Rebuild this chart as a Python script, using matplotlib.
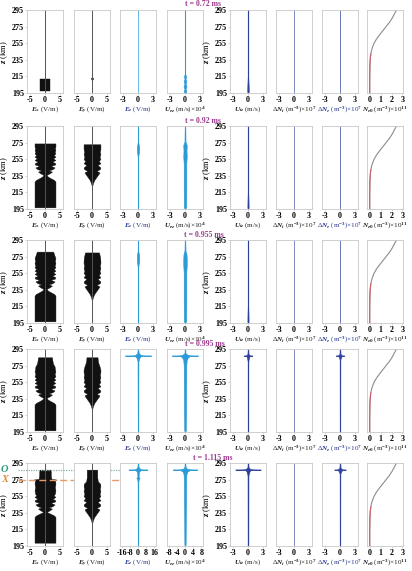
import matplotlib.pyplot as plt
from matplotlib.transforms import blended_transform_factory

# ---- data ----
times = ['t = 0.72 ms', 't = 0.92 ms', 't = 0.955 ms', 't = 0.995 ms', 't = 1.115 ms']
z_ticks = [195, 215, 235, 255, 275, 295]

# Ex envelope (half width, V/m) per time step
ex_z = [
    [197, 212],
    [197, 228, 230, 232, 234, 236, 238, 240, 241.5, 243, 245, 247, 248.5, 250, 252, 254, 256, 258, 260, 262, 264, 266, 268, 270, 272, 274],
    [197, 228, 230, 232, 234, 236, 238, 240, 241.5, 243, 245, 247, 248.5, 250, 252, 254, 256, 258, 260, 262, 264, 267, 270, 273, 276, 279, 281],
    [197, 228, 230, 232, 234, 236, 238, 240, 241.5, 243, 245, 247, 248.5, 250, 252, 254, 256, 258, 260, 262, 265, 268, 271, 274, 277, 280, 285],
    [199, 230, 232, 234, 236, 238, 240, 241.5, 243, 245, 247, 248.5, 250, 252, 254, 256, 258, 262, 266, 270, 274, 275, 276, 280, 284, 287],
]
ex_w = [
    [1.6, 1.6],
    [3.6, 3.6, 3.1, 2.0, 1.0, 0.5, 1.6, 2.4, 1.3, 2.6, 3.3, 2.0, 3.4, 3.6, 2.5, 3.6, 2.8, 3.6, 3.0, 3.6, 3.3, 3.6, 3.4, 3.6, 3.6, 3.6],
    [3.6, 3.6, 3.1, 2.0, 1.0, 0.5, 1.6, 2.4, 1.3, 2.6, 3.3, 2.0, 3.4, 3.6, 2.5, 3.6, 2.8, 3.6, 3.0, 3.6, 3.3, 3.6, 3.4, 3.6, 3.3, 3.0, 2.8],
    [3.6, 3.6, 3.1, 2.0, 1.0, 0.5, 1.6, 2.4, 1.3, 2.6, 3.3, 2.0, 3.4, 3.6, 2.5, 3.6, 2.8, 3.6, 3.0, 3.6, 3.3, 3.6, 3.4, 3.3, 2.8, 2.6, 2.4],
    [3.6, 3.6, 3.0, 1.8, 0.6, 1.6, 2.4, 1.3, 2.6, 3.3, 2.0, 3.4, 3.6, 2.6, 3.6, 3.0, 3.4, 3.6, 3.4, 3.6, 3.5, 4.0, 2.2, 2.0, 2.0, 1.9],
]

# Ey envelope (half width, V/m)
ey_z = [
    [211, 212, 213, 214],
    [222, 226, 230, 233, 236, 239, 241, 243, 245, 248, 250, 253, 255, 258, 261, 264, 267, 270, 273],
    [222, 226, 230, 233, 236, 239, 241, 243, 245, 248, 250, 253, 255, 258, 261, 264, 267, 270, 274, 277, 280],
    [222, 226, 230, 233, 236, 239, 241, 243, 245, 248, 250, 253, 255, 258, 261, 264, 267, 270, 274, 278, 281, 285],
    [222, 226, 230, 233, 236, 239, 241, 243, 245, 248, 250, 253, 255, 258, 261, 264, 267, 270, 273, 278, 283, 287],
]
ey_w = [
    [0.1, 0.35, 0.35, 0.1],
    [0.05, 0.3, 0.8, 1.4, 2.0, 2.6, 1.6, 2.7, 2.9, 1.9, 2.9, 2.3, 2.9, 2.6, 2.9, 2.7, 2.9, 2.9, 2.9],
    [0.05, 0.3, 0.8, 1.4, 2.0, 2.6, 1.6, 2.7, 2.9, 1.9, 2.9, 2.3, 2.9, 2.6, 2.9, 2.7, 2.9, 2.9, 2.8, 2.6, 2.4],
    [0.05, 0.3, 0.8, 1.4, 2.0, 2.6, 1.6, 2.7, 2.9, 1.9, 2.9, 2.3, 2.9, 2.6, 2.9, 2.7, 2.9, 2.9, 2.6, 2.2, 2.0, 1.9],
    [0.05, 0.3, 0.8, 1.4, 2.0, 2.6, 1.6, 2.7, 2.9, 1.9, 2.9, 2.3, 2.9, 2.6, 2.9, 2.7, 2.9, 2.8, 2.0, 1.8, 1.8, 1.8],
]

# Ez envelope (V/m)
ez_z = [
    [195, 295],
    [195, 258, 262, 268, 272, 276, 295],
    [195, 262, 268, 274, 278, 282, 295],
    [195, 280, 284, 286, 286.6, 287, 287.4, 288, 290, 295],
    [195, 272, 276, 277, 278, 284, 286, 286.6, 287, 287.4, 288, 290, 295],
]
ez_w = [
    [0.04, 0.04],
    [0.04, 0.04, 0.15, 0.2, 0.15, 0.04, 0.04],
    [0.04, 0.04, 0.18, 0.22, 0.18, 0.04, 0.04],
    [0.04, 0.08, 0.25, 0.5, 0.9, 2.7, 0.9, 0.5, 0.15, 0.04],
    [0.2, 0.3, 0.8, 1.6, 0.6, 0.8, 2.0, 3.5, 9.5, 3.5, 2.0, 0.6, 0.2],
]

# Uez envelope (m/s x 1e4)
uez_z = [
    [195, 197, 200, 203, 206, 209, 212, 215, 218, 295],
    [195, 197, 220, 250, 258, 265, 272, 276, 295],
    [195, 197, 220, 255, 265, 272, 278, 282, 295],
    [195, 197, 240, 275, 282, 285, 286.6, 287, 287.4, 288, 290, 295],
    [195, 197, 240, 275, 282, 285, 286.6, 287, 287.4, 288, 290, 295],
]
uez_w = [
    [0.04, 0.25, 0.1, 0.3, 0.1, 0.25, 0.1, 0.2, 0.04, 0.04],
    [0.04, 0.2, 0.25, 0.25, 0.35, 0.3, 0.35, 0.1, 0.04],
    [0.04, 0.2, 0.25, 0.25, 0.35, 0.35, 0.3, 0.1, 0.04],
    [0.04, 0.15, 0.2, 0.25, 0.35, 0.6, 1.0, 2.7, 1.0, 0.5, 0.1, 0.04],
    [0.1, 0.3, 0.4, 0.5, 0.7, 1.2, 2.5, 6.0, 2.5, 1.0, 0.3, 0.1],
]

# Uiz envelope (m/s)
uiz_z = [
    [195, 197, 205, 215, 295],
    [195, 197, 205, 215, 295],
    [195, 197, 205, 215, 295],
    [195, 280, 285, 286.6, 287, 287.4, 289, 295],
    [195, 280, 284, 286, 286.6, 287, 287.4, 288, 290, 295],
]
uiz_w = [
    [0.05, 0.15, 0.12, 0.05, 0.05],
    [0.05, 0.12, 0.1, 0.05, 0.05],
    [0.05, 0.12, 0.1, 0.05, 0.05],
    [0.05, 0.06, 0.2, 0.35, 0.9, 0.35, 0.1, 0.05],
    [0.06, 0.08, 0.25, 0.4, 0.8, 2.6, 0.8, 0.4, 0.1, 0.06],
]

# delta Ne envelope (m^-3 x 1e7); delta Ni stays flat
dne_z = [
    [195, 295],
    [195, 295],
    [195, 295],
    [195, 282, 285, 286.6, 287, 287.4, 289, 295],
    [195, 282, 285, 286.6, 287, 287.4, 289, 295],
]
dne_w = [
    [0.05, 0.05],
    [0.05, 0.05],
    [0.05, 0.05],
    [0.05, 0.06, 0.2, 0.4, 0.9, 0.4, 0.1, 0.05],
    [0.05, 0.06, 0.25, 0.5, 1.2, 0.5, 0.12, 0.05],
]
dni_z = [195, 295]
dni_w = [0.05, 0.05]

# background electron density Ne0 (m^-3 x 1e11)
ne0_z = [195, 215, 230, 238, 242, 246, 250, 255, 260, 265, 270, 275, 280, 285, 290, 295]
ne0_v = [0.0, 0.0, 0.02, 0.06, 0.1, 0.16, 0.25, 0.4, 0.62, 0.9, 1.2, 1.5, 1.8, 2.05, 2.25, 2.45]

# markers in the last row
o_level = 287
x_level = 275

# ---- styling ----
plt.rcParams['font.family'] = ['Liberation Serif', 'DejaVu Serif']
plt.rcParams['font.weight'] = 'bold'
plt.rcParams['mathtext.fontset'] = 'custom'
plt.rcParams['mathtext.it'] = 'Liberation Serif:italic:bold'
plt.rcParams['mathtext.rm'] = 'Liberation Serif:bold'
plt.rcParams['axes.unicode_minus'] = False

W, H = 412, 571
col_left = [27, 74, 120, 167, 230, 276, 322, 367]
col_w = 36
row_top = [10, 126, 240, 349, 463]
row_h = 83
title_x = [203, 203, 204, 205, 213]
title_dy = [5.5, 5.0, 5.0, 4.5, 5.0]

xlabels = [r'$E_x$ (V/m)', r'$E_y$ (V/m)', r'$E_z$ (V/m)', r'$U_{ez}$ (m/s)×10$^4$',
           r'$U_{iz}$ (m/s)', r'Δ$N_i$ (m$^{-3}$)×10$^7$', r'Δ$N_e$ (m$^{-3}$)×10$^7$',
           r'$N_{e0}$ (m$^{-3}$)×10$^{11}$']
label_colors = ['#222222', '#222222', '#2b3990', '#222222', '#222222', '#222222', '#2b3990', '#222222']

c_black = '#111111'
c_light = '#2a9bd6'
c_ion = '#2e3f9a'
c_ni = '#4c5fae'
c_ne = '#33449c'
c_gray = '#8c8c8c'
c_red = '#d0606a'

fig = plt.figure(figsize=(W / 100, H / 100), dpi=100)


def add_panel(r, c):
    ax = fig.add_axes([col_left[c] / W, 1 - (row_top[r] + row_h) / H, col_w / W, row_h / H])
    ax.set_ylim(195, 295)
    ax.set_yticks(z_ticks)
    for s in ax.spines.values():
        s.set_color('#c8c8c8')
        s.set_linewidth(0.6)
    ax.tick_params(labelsize=5.8, length=1.2, width=0.5, color='#c8c8c8', pad=1.0)
    if c in (0, 4):
        ax.set_ylabel(r'$z$ (km)', fontsize=6.2, labelpad=1)
    else:
        ax.tick_params(axis='y', labelleft=False, length=0)
    ax.set_xlabel(xlabels[c], fontsize=5.1, labelpad=0.0, color=label_colors[c])
    return ax


def envelope(ax, z, w, color, lw=0.5):
    neg = [-v for v in w]
    ax.fill_betweenx(z, neg, w, color=color, lw=lw)


for r in range(5):
    fig.text(title_x[r] / W, 1 - (row_top[r] - title_dy[r]) / H, times[r], color='#9c3a8e',
             fontsize=5.6, ha='center', va='center')
    axs = [add_panel(r, c) for c in range(8)]

    # Ex, Ey
    for ax, zz, ww in ((axs[0], ex_z[r], ex_w[r]), (axs[1], ey_z[r], ey_w[r])):
        ax.axvline(0, color='#555555', lw=0.7)
        envelope(ax, zz, ww, c_black, lw=0.3)
        ax.set_xlim(-6.2, 6.2)
        ax.set_xticks([-5, 0, 5])

    # Ez, Uez
    envelope(axs[2], ez_z[r], ez_w[r], c_light, lw=0.5)
    envelope(axs[3], uez_z[r], uez_w[r], c_light, lw=0.5)
    if r < 4:
        axs[2].set_xlim(-3.7, 3.7)
        axs[2].set_xticks([-3, 0, 3])
        axs[3].set_xlim(-3.7, 3.7)
        axs[3].set_xticks([-3, 0, 3])
    else:
        axs[2].set_xlim(-18, 18)
        axs[2].set_xticks([-16, -8, 0, 8, 16])
        axs[3].set_xlim(-8.8, 8.8)
        axs[3].set_xticks([-8, -4, 0, 4, 8])

    # Uiz, dNi, dNe
    envelope(axs[4], uiz_z[r], uiz_w[r], c_ion, lw=0.5)
    envelope(axs[5], dni_z, dni_w, c_ni, lw=0.5)
    envelope(axs[6], dne_z[r], dne_w[r], c_ne, lw=0.5)
    for ax in axs[4:7]:
        ax.set_xlim(-3.7, 3.7)
        ax.set_xticks([-3, 0, 3])

    # Ne0 profile
    axs[7].plot(ne0_v, ne0_z, color=c_gray, lw=0.8)
    low = [i for i, v in enumerate(ne0_v) if v < 0.12]
    axs[7].plot([ne0_v[i] for i in low], [ne0_z[i] for i in low], color=c_red, lw=0.8)
    axs[7].set_xlim(-0.25, 3.05)
    axs[7].set_xticks([0, 1, 2, 3])

    if r == 4:
        ax0 = axs[0]
        tr = blended_transform_factory(ax0.transAxes, ax0.transData)
        x0 = (18 - col_left[0]) / col_w
        x1 = (120 - col_left[0]) / col_w
        ax0.plot([x0, x1], [o_level, o_level], transform=tr, clip_on=False,
                 color='#8fb5a8', lw=0.9, ls=(0, (1, 1)), zorder=5)
        ax0.plot([x0, x1], [x_level, x_level], transform=tr, clip_on=False,
                 color='#e89a6a', lw=1.0, ls=(0, (5, 2.5)), zorder=5)
        ax0.text(-0.62, o_level, 'O', transform=tr, color='#2f9c80', fontsize=7.5,
                 style='italic', ha='center', va='center')
        ax0.text(-0.62, x_level, 'X', transform=tr, color='#e08a3c', fontsize=7.5,
                 style='italic', ha='center', va='center')

fig.savefig('out.png', dpi=100)
